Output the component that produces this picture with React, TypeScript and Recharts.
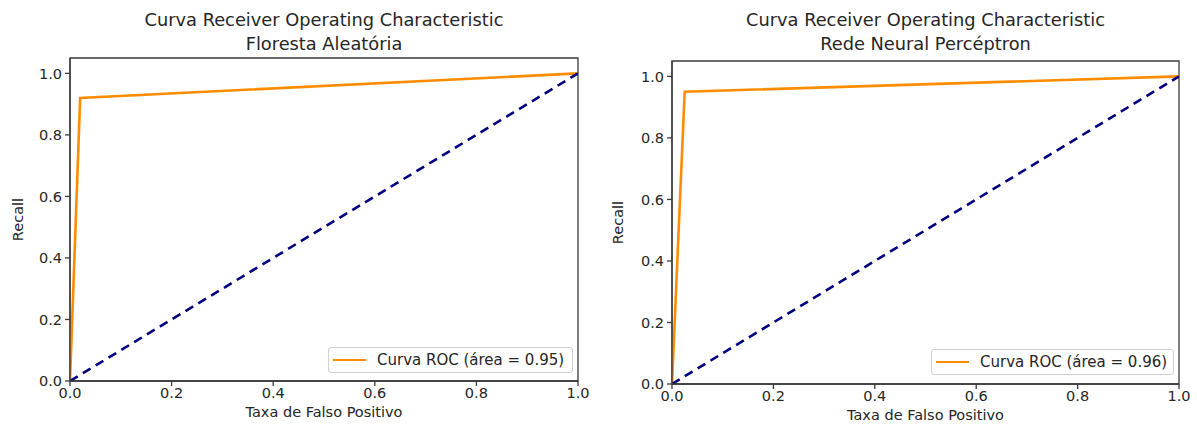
import React from "react";
import {
  LineChart,
  Line,
  XAxis,
  YAxis,
  ReferenceArea,
} from "recharts";

// ROC points
const fprRF = [0, 0.02, 1];
const tprRF = [0, 0.92, 1];
const fprMLP = [0, 0.025, 1];
const tprMLP = [0, 0.95, 1];
const chanceLine = [0, 1];
const axisTicks = [0, 0.2, 0.4, 0.6, 0.8, 1.0];
const titles = ["Floresta Aleatória", "Rede Neural Percéptron"];
const aucLabels = ["Curva ROC (área = 0.95)", "Curva ROC (área = 0.96)"];

const FONT = "'DejaVu Sans', sans-serif";
const INK = "#262626";
const FRAME = "#3a3a3a";
const ORANGE = "#ff8c00";

const toPoints = (xs: number[], ys: number[]) =>
  xs.map((x, i) => ({ x, y: ys[i] }));

interface PanelProps {
  left: number;
  width: number;
  marginTop: number;
  yAxisWidth: number;
  xAxisHeight: number;
  marginRight: number;
  fpr: number[];
  tpr: number[];
  subtitle: string;
  legendName: string;
  legendBox: { left: number; top: number; width: number };
}

function RocPanel(p: PanelProps) {
  const roc = toPoints(p.fpr, p.tpr);
  const diag = toPoints(chanceLine, chanceLine);
  const plotLeft = p.yAxisWidth;
  const plotRight = p.width - p.marginRight;
  const center = (plotLeft + plotRight) / 2;

  return (
    <div style={{ position: "absolute", left: p.left, top: 0, width: p.width, height: 425 }}>
      <div
        style={{
          position: "absolute",
          left: center - 250,
          width: 500,
          top: 8,
          textAlign: "center",
          fontFamily: FONT,
          fontSize: 17.8,
          lineHeight: "24px",
          color: INK,
        }}
      >
        Curva Receiver Operating Characteristic
        <br />
        {p.subtitle}
      </div>
      <LineChart
        width={p.width}
        height={425}
        margin={{ top: p.marginTop, right: p.marginRight, bottom: 0, left: 0 }}
      >
        <XAxis
          type="number"
          dataKey="x"
          domain={[0, 1]}
          ticks={axisTicks}
          allowDataOverflow
          height={p.xAxisHeight}
          tickFormatter={(v: number) => v.toFixed(1)}
          tick={{ fill: INK, fontSize: 14.5, fontFamily: FONT }}
          tickSize={5}
          tickMargin={2}
          stroke={FRAME}
          strokeWidth={1.3}
          label={({ viewBox }: any) => (
            <text
              x={viewBox.x + viewBox.width / 2}
              y={viewBox.y + 36}
              textAnchor="middle"
              fill={INK}
              fontSize={14.5}
              fontFamily={FONT}
            >
              Taxa de Falso Positivo
            </text>
          )}
        />
        <YAxis
          type="number"
          domain={[0, 1.05]}
          ticks={axisTicks}
          allowDataOverflow
          width={p.yAxisWidth}
          tickFormatter={(v: number) => v.toFixed(1)}
          tick={{ fill: INK, fontSize: 14.5, fontFamily: FONT }}
          tickSize={5}
          tickMargin={3}
          stroke={FRAME}
          strokeWidth={1.3}
          label={({ viewBox }: any) => {
            const cx = 18;
            const cy = viewBox.y + viewBox.height / 2;
            return (
              <text
                x={cx}
                y={cy}
                transform={`rotate(-90 ${cx} ${cy})`}
                textAnchor="middle"
                dominantBaseline="central"
                fill={INK}
                fontSize={14.5}
                fontFamily={FONT}
              >
                Recall
              </text>
            );
          }}
        />
        <ReferenceArea
          x1={0}
          x2={1}
          y1={0}
          y2={1.05}
          fill="none"
          fillOpacity={0}
          stroke={FRAME}
          strokeWidth={1.3}
        />
        <Line
          data={roc}
          dataKey="y"
          name={p.legendName}
          type="linear"
          stroke={ORANGE}
          strokeWidth={2.6}
          dot={false}
          isAnimationActive={false}
        />
        <Line
          data={diag}
          dataKey="y"
          name="chance"
          type="linear"
          stroke="#000080"
          strokeWidth={2.6}
          strokeDasharray="9 6"
          dot={false}
          isAnimationActive={false}
        />
      </LineChart>
      <div
        style={{
          position: "absolute",
          left: p.legendBox.left,
          top: p.legendBox.top,
          width: p.legendBox.width,
          height: 26,
          boxSizing: "border-box",
          border: "1px solid #d0d0d0",
          borderRadius: 3,
          background: "rgba(255,255,255,0.8)",
          padding: "2px 4px",
          fontFamily: FONT,
          fontSize: 15,
          color: INK,
          whiteSpace: "nowrap",
        }}
      >
        <div style={{ display: "flex", alignItems: "center", lineHeight: "20px" }}>
          <span
            style={{
              display: "inline-block",
              width: 33,
              height: 0,
              borderTop: `2.6px solid ${ORANGE}`,
              marginRight: 11,
            }}
          />
          {p.legendName}
        </div>
      </div>
    </div>
  );
}

export default function App() {
  return (
    <div
      style={{
        position: "fixed",
        left: 0,
        top: 0,
        width: 1197,
        height: 425,
        background: "#fff",
        overflow: "hidden",
      }}
    >
      <RocPanel
        left={0}
        width={598}
        marginTop={58}
        yAxisWidth={70}
        xAxisHeight={44}
        marginRight={20}
        fpr={fprRF}
        tpr={tprRF}
        subtitle={titles[0]}
        legendName={aucLabels[0]}
        legendBox={{ left: 328, top: 347, width: 245 }}
      />
      <RocPanel
        left={600}
        width={597}
        marginTop={61}
        yAxisWidth={72}
        xAxisHeight={41}
        marginRight={18}
        fpr={fprMLP}
        tpr={tprMLP}
        subtitle={titles[1]}
        legendName={aucLabels[1]}
        legendBox={{ left: 331, top: 349, width: 243 }}
      />
    </div>
  );
}
